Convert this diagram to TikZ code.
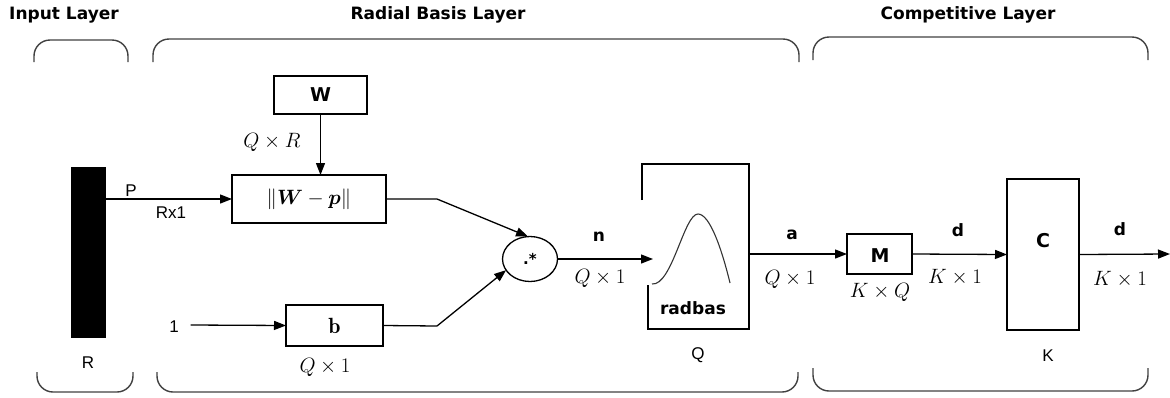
\documentclass[tikz,border=0pt]{standalone}
\usepackage{amsmath,bm}
\usepackage{fontspec}
\newfontfamily\hdfont[Scale=1.0]{DejaVu Sans}
\newfontfamily\lbfont{Liberation Sans}
\usetikzlibrary{arrows.meta,shapes.geometric}
\begin{document}
\begin{tikzpicture}[x=1pt,y=-1pt,
  every node/.style={inner sep=0pt,outer sep=0pt},
  hdr/.style={font=\hdfont\bfseries\fontsize{17}{17}\selectfont},
  bl/.style={font=\hdfont\bfseries\fontsize{17}{17}\selectfont},
  sl/.style={font=\lbfont\fontsize{17}{17}\selectfont},
  ml/.style={font=\fontsize{20}{20}\selectfont},
  boxx/.style={draw,line width=1.3pt},
  brace/.style={draw=black!75,line width=1.4pt,rounded corners=16pt},
  conn/.style={line width=1.3pt},
  arr/.style={line width=1.3pt,-{Triangle[length=12pt,width=9pt]}}]
\useasboundingbox (0,0) rectangle (1170,397);
% headers
\node[hdr] (h1) at (64,15) {Input Layer};
\node[hdr] (h2) at (438,15) {Radial Basis Layer};
\node[hdr] (h3) at (968,15) {Competitive Layer};
% braces
\draw[brace] (34,62) -- (34,40) -- (128,40) -- (128,62);
\draw[brace] (153,62) -- (153,39) -- (799,39) -- (799,62);
\draw[brace] (813,60) -- (813,37) -- (1148,37) -- (1148,60);
\draw[brace] (37,372) -- (37,392) -- (133,392) -- (133,372);
\draw[brace] (157,372) -- (157,392) -- (798,392) -- (798,372);
\draw[brace] (813,368) -- (813,391) -- (1148,391) -- (1148,368);
% input bar
\node[fill=black,minimum width=35pt,minimum height=171pt] (bar) at (88.5,252.5) {};
\node[sl] (Rlab) at (88,363) {R};
% boxes
\node[boxx,minimum width=93pt,minimum height=38pt] (W) at (320.5,95) {\hdfont\bfseries\fontsize{19}{19}\selectfont W};
\node[boxx,minimum width=154pt,minimum height=48pt] (WP) at (309,199) {\fontsize{20}{20}\selectfont$\|\bm{W}-\bm{p}\|$};
\node[boxx,minimum width=97pt,minimum height=41pt] (b) at (334.5,325.5) {\fontsize{22}{22}\selectfont$\mathbf{b}$};
\node[sl] (one) at (174,327) {1};
\node[draw,ellipse,line width=1.3pt,minimum width=55pt,minimum height=45pt] (mul) at (530,259) {\hdfont\bfseries\fontsize{15}{15}\selectfont .*};
% radbas box
\node[minimum width=107pt,minimum height=165pt] (rb) at (695.5,246.5) {};
\draw[conn] (642,200) -- (642,164) -- (749,164) -- (749,329) -- (648,329) -- (648,285);
\draw[line width=1.1pt,black!80] (652,284) .. controls (672,286) and (684,214) .. (698,214) .. controls (710,214) and (722,250) .. (730,283);
\node[bl] (rbt) at (693,308) {radbas};
\node[sl] (Qlab) at (698,355) {Q};
\coordinate (nend) at (653,259);
% competitive
\node[boxx,minimum width=65pt,minimum height=40pt] (M) at (879.5,254) {};
\node[bl,font=\hdfont\bfseries\fontsize{19}{19}\selectfont] (Mt) at (880,256) {M};
\node[boxx,minimum width=72pt,minimum height=151pt] (C) at (1043,254.5) {};
\node[bl,font=\hdfont\bfseries\fontsize{19}{19}\selectfont] (Ct) at (1043,241) {C};
\node[sl] (Klab) at (1048,356) {K};
\coordinate (out) at (1170,254);
% connectors
\draw[arr] (bar.east |- WP.west) -- (WP.west);
\draw[arr] (W.south) -- (W.south |- WP.north);
\draw[arr] (one.east) ++(12,-2) coordinate (onee) (onee) -- (b.west);
\draw[arr] (WP.east) -- (437,199) -- (mul.95);
\draw[arr] (b.east) -- (437,326) -- (mul.205);
\draw[arr] (mul.east) -- (nend);
\draw[arr] (rb.east |- M.west) -- (M.west);
\draw[arr] (M.east) -- (C.west);
\draw[arr] (C.east) -- (out);
% labels
\node[sl] (Plab) at (131,191) {P};
\node[sl] (Rx1) at (171,213) {Rx1};
\node[ml] (QR) at (272,142) {$Q\times R$};
\node[ml] (Q1b) at (325,367) {$Q\times 1$};
\node[bl] (nl) at (599,237) {n};
\node[ml] (Q1n) at (600,278) {$Q\times 1$};
\node[bl] (al) at (792,235) {a};
\node[ml] (Q1a) at (790,279) {$Q\times 1$};
\node[ml] (KQ) at (880,292) {$K\times Q$};
\node[bl] (dl1) at (958,230) {d};
\node[ml] (K1a) at (955,277) {$K\times 1$};
\node[bl] (dl2) at (1120,229) {d};
\node[ml] (K1b) at (1120,279) {$K\times 1$};
\end{tikzpicture}
\end{document}
